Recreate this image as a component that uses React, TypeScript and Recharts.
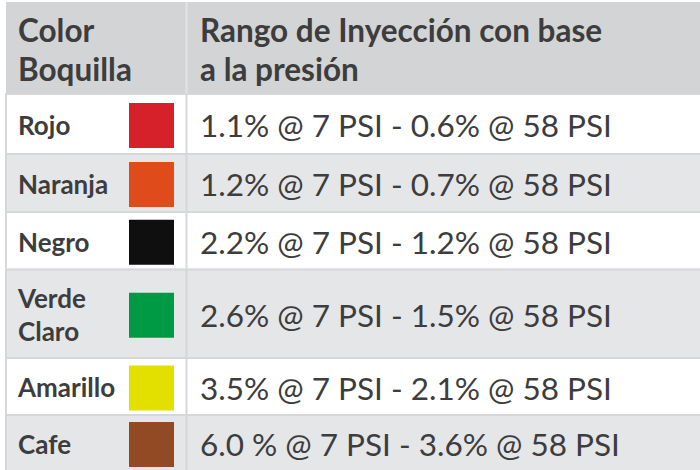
import React from 'react';
import { BarChart, Bar, XAxis, YAxis } from 'recharts';

// ---- data ----
const headerLabels = ['Color\nBoquilla', 'Rango de Inyección con base\na la presión'];
const nozzleNames = ['Rojo', 'Naranja', 'Negro', 'Verde\nClaro', 'Amarillo', 'Cafe'];
const nozzleColors = ['#d7212a', '#e04b1c', '#0f0f0f', '#009a45', '#e3e000', '#924a24'];
const lowPressureRate = ['1.1%', '1.2%', '2.2%', '2.6%', '3.5%', '6.0 %'];
const highPressureRate = ['0.6%', '0.7%', '1.2%', '1.5%', '2.1%', '3.6%'];
const lowPsi = 7;
const highPsi = 58;

// ---- layout (row heights in px units of the y scale) ----
const ROW_HEIGHTS = [91, 60, 58, 57.5, 88.5, 57, 56];
const TOTAL = ROW_HEIGHTS.reduce((a, b) => a + b, 0);

const TEXT = '#3d3d3d';
const HEADER_BG = '#d3d4d6';
const GRAY_BG = '#e5e6e8';
const BORDER = '#d6d7d9';
const FONT = 'Lato, "Noto Sans", sans-serif';

const chartData = [
  ROW_HEIGHTS.reduce((acc: any, h, i) => {
    acc[`row${i}`] = h;
    return acc;
  }, { name: 'tabla' }),
];

const DIV_X = 185.5; // column divider (absolute)
const LABEL_X = 18;
const VALUE_X = 200;

const HEADER_SIZE = 31.5;
const LABEL_SIZE = 26;
const VALUE_SIZE = 31.5;

function multiline(text: string, x: number, y: number, size: number, weight: number, lh: number) {
  const lines = text.split('\n');
  return (
    <text x={x} y={y} fontSize={size} fontWeight={weight} fill={TEXT} fontFamily={FONT}>
      {lines.map((l, k) => (
        <tspan key={k} x={x} dy={k === 0 ? 0 : lh}>
          {l}
        </tspan>
      ))}
    </text>
  );
}

const makeShape = (i: number) => (props: any) => {
  const { x, y, width, height } = props;
  const top = Math.min(y, y + height);
  const h = Math.abs(height);
  const right = x + width;
  if (i === 0) {
    const lh = 38.5;
    const base = 42;
    return (
      <g>
        <rect x={x + 1} y={top} width={width - 1} height={h} fill={HEADER_BG} />
        <rect x={DIV_X} y={top} width={2} height={h} fill="#e2e3e5" />
        {multiline(headerLabels[0], LABEL_X, top + base - 2, HEADER_SIZE, 700, lh)}
        {multiline(headerLabels[1], VALUE_X, top + base - 2, HEADER_SIZE, 700, lh)}
      </g>
    );
  }
  const r = i - 1;
  const cellTop = top + 2;
  const cellH = h - 2;
  const center = cellTop + cellH / 2;
  const bg = r % 2 === 0 ? '#ffffff' : GRAY_BG;
  const name = nozzleNames[r];
  const nLines = name.split('\n').length;
  const labelLh = 33;
  const labelCap = LABEL_SIZE * 0.72;
  const labelBase = center - ((nLines - 1) * labelLh) / 2 + labelCap / 2 + 1.5;
  const valueCap = VALUE_SIZE * 0.72;
  const valueBase = center + valueCap / 2 + 2;
  const value = `${lowPressureRate[r]} @ ${lowPsi} PSI - ${highPressureRate[r]} @ ${highPsi} PSI`;
  return (
    <g>
      <rect x={x} y={top} width={width} height={h} fill={BORDER} />
      <rect x={x + 2} y={cellTop} width={DIV_X - x - 2} height={cellH} fill={bg} />
      <rect x={DIV_X + 2} y={cellTop} width={right - DIV_X - 2} height={cellH} fill={bg} />
      <rect x={129} y={center - 22.5 + 1.5} width={45} height={45} fill={nozzleColors[r]} />
      {multiline(name, LABEL_X, labelBase, LABEL_SIZE, 700, labelLh)}
      {multiline(value, VALUE_X, valueBase, VALUE_SIZE, 400, 30)}
    </g>
  );
};

export default function App() {
  return (
    <div style={{ position: 'absolute', left: 0, top: 0, width: 700, height: 470, background: '#fff' }}>
      <BarChart
        width={700}
        height={470}
        data={chartData}
        margin={{ top: 2, right: 0, bottom: 0, left: 5 }}
        barCategoryGap={0}
        barGap={0}
      >
        <XAxis dataKey="name" type="category" hide />
        <YAxis type="number" domain={[0, TOTAL]} reversed hide />
        {ROW_HEIGHTS.map((_, i) => (
          <Bar
            key={i}
            dataKey={`row${i}`}
            stackId="t"
            isAnimationActive={false}
            shape={makeShape(i)}
          />
        ))}
      </BarChart>
    </div>
  );
}
